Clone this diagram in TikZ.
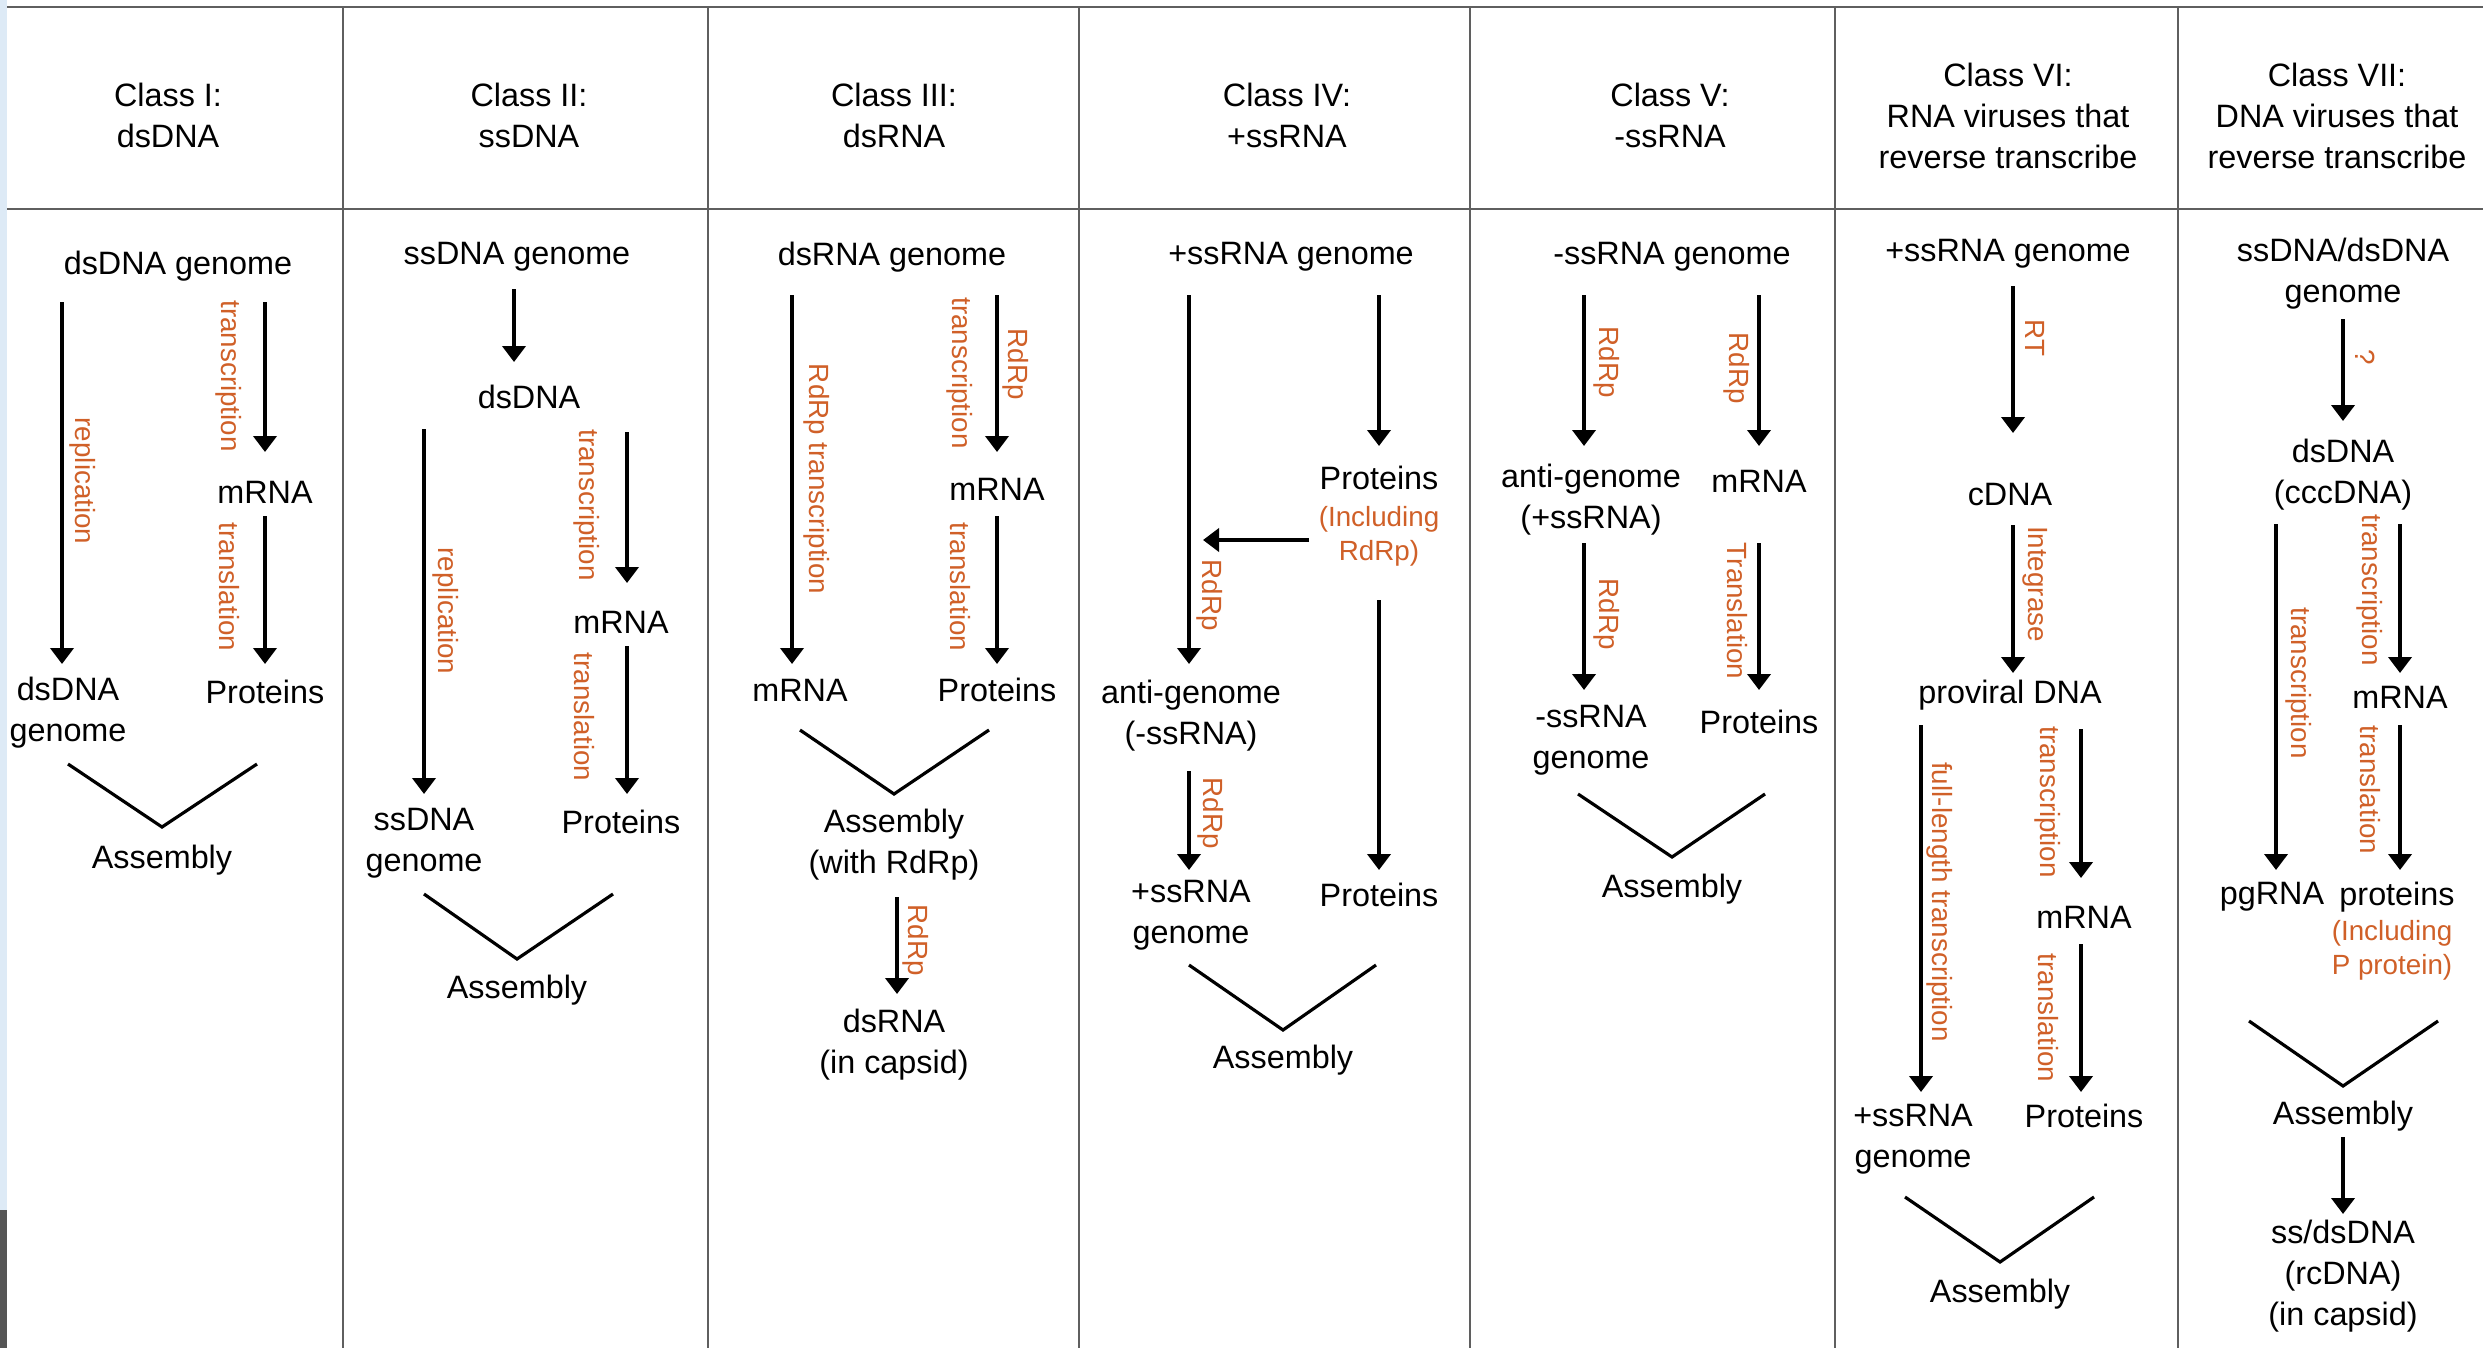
\documentclass[tikz,border=0pt]{standalone}
\usepackage{fontspec}
\setmainfont{Liberation Sans}
\usetikzlibrary{arrows.meta}
\definecolor{orng}{RGB}{208,96,40}
\definecolor{gridc}{RGB}{95,95,95}
\definecolor{stripblue}{RGB}{221,234,246}
\definecolor{stripdark}{RGB}{85,85,85}
\newcommand\varr[4]{\draw[arr] (#2,#3) coordinate (#1s) -- (#2,#4) coordinate (#1e);}
\newcommand\vshape[7]{\draw[vee] (#2,#3) coordinate (#1a) -- (#4,#5) coordinate (#1b) -- (#6,#7) coordinate (#1c);}
\begin{document}
\begin{tikzpicture}[x=0.01cm,y=-0.01cm,
  txt/.style={inner sep=0pt, align=center, yshift=-0.03cm, font=\fontsize{9.2pt}{11.7pt}\selectfont},
  otxt/.style={inner sep=0pt, align=center, yshift=-0.02cm, text=orng, font=\fontsize{7.9pt}{9.7pt}\selectfont},
  lab/.style={inner sep=0pt, text=orng, font=\fontsize{7.9pt}{9.7pt}\selectfont, rotate=-90},
  arr/.style={line width=1.1pt, -{Triangle[length=0.16cm,width=0.23cm]}},
  vee/.style={line width=0.9pt},
  gridline/.style={draw=gridc, line width=0.6pt}]
\useasboundingbox (0,0) rectangle (2489,1348);
\fill[white] (0,0) rectangle (2489,1348);
\fill[stripblue] (0,0) rectangle (7,1210);
\fill[stripdark] (0,1210) rectangle (7,1348);
% table
\draw[gridline] (7,7) coordinate (tl) -- (2483,7) coordinate (tr);
\draw[gridline] (7,209) coordinate (hl) -- (2483,209) coordinate (hr);
\foreach \x/\n in {343/1,708/2,1079/3,1470/4,1835/5,2178/6}
  \draw[gridline] (\x,7) coordinate (vt\n) -- (\x,1348) coordinate (vb\n);
% headers
\node[txt] (h1) at (168,112) {Class I:\\dsDNA};
\node[txt] (h2) at (529,112) {Class II:\\ssDNA};
\node[txt] (h3) at (894,112) {Class III:\\dsRNA};
\node[txt] (h4) at (1287,112) {Class IV:\\+ssRNA};
\node[txt] (h5) at (1670,112) {Class V:\\-ssRNA};
\node[txt] (h6) at (2008,113) {Class VI:\\RNA viruses that\\reverse transcribe};
\node[txt] (h7) at (2337,113) {Class VII:\\DNA viruses that\\reverse transcribe};
% Class I
\node[txt] (c1g) at (178,263) {dsDNA genome};
\node[txt] (c1m) at (265,489) {mRNA};
\node[txt] (c1dg) at (68,710) {dsDNA\\genome};
\node[txt] (c1p) at (265,689) {Proteins};
\node[txt] (c1as) at (162,857) {Assembly};
\varr{c1a1}{62}{302}{664}
\varr{c1a2}{265}{302}{452}
\varr{c1a3}{265}{516}{664}
\node[lab] (c1l1) at (83,481) {replication};
\node[lab] (c1l2) at (229,376) {transcription};
\node[lab] (c1l3) at (229,587) {translation};
\vshape{c1v}{68}{764}{162}{827}{257}{764}
% Class II
\node[txt] (c2g) at (517,254) {ssDNA genome};
\node[txt] (c2d) at (529,394) {dsDNA};
\node[txt] (c2m) at (621,619) {mRNA};
\node[txt] (c2sg) at (424,840) {ssDNA\\genome};
\node[txt] (c2p) at (621,819) {Proteins};
\node[txt] (c2as) at (517,987) {Assembly};
\varr{c2a1}{514}{289}{362}
\varr{c2a2}{424}{429}{794}
\varr{c2a3}{627}{432}{583}
\varr{c2a4}{627}{646}{794}
\node[lab] (c2l1) at (446,611) {replication};
\node[lab] (c2l2) at (587,505) {transcription};
\node[lab] (c2l3) at (584,717) {translation};
\vshape{c2v}{424}{894}{517}{959}{613}{894}
% Class III
\node[txt] (c3g) at (892,254) {dsRNA genome};
\node[txt] (c3m) at (997,486) {mRNA};
\node[txt] (c3m2) at (800,687) {mRNA};
\node[txt] (c3p) at (997,687) {Proteins};
\node[txt] (c3as) at (894,842) {Assembly\\(with RdRp)};
\node[txt] (c3ds) at (894,1042) {dsRNA\\(in capsid)};
\varr{c3a1}{792}{295}{664}
\varr{c3a2}{997}{295}{452}
\varr{c3a3}{997}{516}{664}
\varr{c3a4}{897}{897}{994}
\node[lab] (c3l1) at (817,479) {RdRp transcription};
\node[lab] (c3l2) at (960,373) {transcription};
\node[lab] (c3l3) at (1016,364) {RdRp};
\node[lab] (c3l4) at (960,587) {translation};
\node[lab] (c3l5) at (916,940) {RdRp};
\vshape{c3v}{800}{730}{894}{794}{989}{730}
% Class IV
\node[txt] (c4g) at (1291,254) {+ssRNA genome};
\node[txt] (c4p) at (1379,475) {Proteins};
\node[otxt] (c4inc) at (1379,534) {(Including\\RdRp)};
\node[txt] (c4ag) at (1191,713) {anti-genome\\(-ssRNA)};
\node[txt] (c4sg) at (1191,912) {+ssRNA\\genome};
\node[txt] (c4p2) at (1379,892) {Proteins};
\node[txt] (c4as) at (1283,1057) {Assembly};
\varr{c4a1}{1189}{295}{664}
\varr{c4a2}{1379}{295}{446}
\varr{c4a3}{1379}{600}{870}
\varr{c4a4}{1189}{771}{870}
\coordinate (c4hit) at (1203,540);
\draw[arr] (c4inc.west |- c4hit) ++(-9,0) -- (c4hit);
\node[lab] (c4l1) at (1210,595) {RdRp};
\node[lab] (c4l2) at (1211,813) {RdRp};
\vshape{c4v}{1189}{965}{1283}{1030}{1376}{965}
% Class V
\node[txt] (c5g) at (1672,254) {-ssRNA genome};
\node[txt] (c5ag) at (1591,497) {anti-genome\\(+ssRNA)};
\node[txt] (c5m) at (1759,478) {mRNA};
\node[txt] (c5sg) at (1591,737) {-ssRNA\\genome};
\node[txt] (c5p) at (1759,719) {Proteins};
\node[txt] (c5as) at (1672,886) {Assembly};
\varr{c5a1}{1584}{295}{446}
\varr{c5a2}{1759}{295}{446}
\varr{c5a3}{1584}{543}{690}
\varr{c5a4}{1759}{543}{690}
\node[lab] (c5l1) at (1607,362) {RdRp};
\node[lab] (c5l2) at (1737,368) {RdRp};
\node[lab] (c5l3) at (1607,614) {RdRp};
\node[lab] (c5l4) at (1737,611) {Translation};
\vshape{c5v}{1578}{794}{1672}{857}{1765}{794}
% Class VI
\node[txt] (c6g) at (2008,251) {+ssRNA genome};
\node[txt] (c6c) at (2010,492) {cDNA};
\node[txt] (c6pv) at (2010,692) {proviral DNA};
\node[txt] (c6m) at (2084,914) {mRNA};
\node[txt] (c6sg) at (1913,1136) {+ssRNA\\genome};
\node[txt] (c6p) at (2084,1113) {Proteins};
\node[txt] (c6as) at (2000,1291) {Assembly};
\varr{c6a1}{2013}{286}{433}
\varr{c6a2}{2013}{525}{673}
\varr{c6a3}{1921}{725}{1092}
\varr{c6a4}{2081}{729}{878}
\varr{c6a5}{2081}{944}{1092}
\node[lab] (c6l1) at (2035,338) {RT};
\node[lab] (c6l2) at (2035,584) {Integrase};
\node[lab] (c6l3) at (1940,902) {full-length transcription};
\node[lab] (c6l4) at (2048,802) {transcription};
\node[lab] (c6l5) at (2048,1018) {translation};
\vshape{c6v}{1905}{1197}{2000}{1262}{2094}{1197}
% Class VII
\node[txt] (c7g) at (2343,271) {ssDNA/dsDNA\\genome};
\node[txt] (c7d) at (2343,472) {dsDNA\\(cccDNA)};
\node[txt] (c7m) at (2400,694) {mRNA};
\node[txt] (c7pg) at (2272,894) {pgRNA};
\node[txt] (c7p) at (2397,894) {proteins};
\node[otxt] (c7inc) at (2392,948) {(Including\\P protein)};
\node[txt] (c7as) at (2343,1113) {Assembly};
\node[txt] (c7ss) at (2343,1273) {ss/dsDNA\\(rcDNA)\\(in capsid)};
\varr{c7a1}{2343}{319}{421}
\varr{c7a2}{2276}{524}{870}
\varr{c7a3}{2400}{524}{673}
\varr{c7a4}{2400}{725}{870}
\varr{c7a5}{2343}{1137}{1214}
\node[lab] (c7l1) at (2365,357) {?};
\node[lab] (c7l2) at (2299,683) {transcription};
\node[lab] (c7l3) at (2370,590) {transcription};
\node[lab] (c7l4) at (2370,790) {translation};
\vshape{c7v}{2249}{1021}{2343}{1086}{2438}{1021}
\end{tikzpicture}
\end{document}
